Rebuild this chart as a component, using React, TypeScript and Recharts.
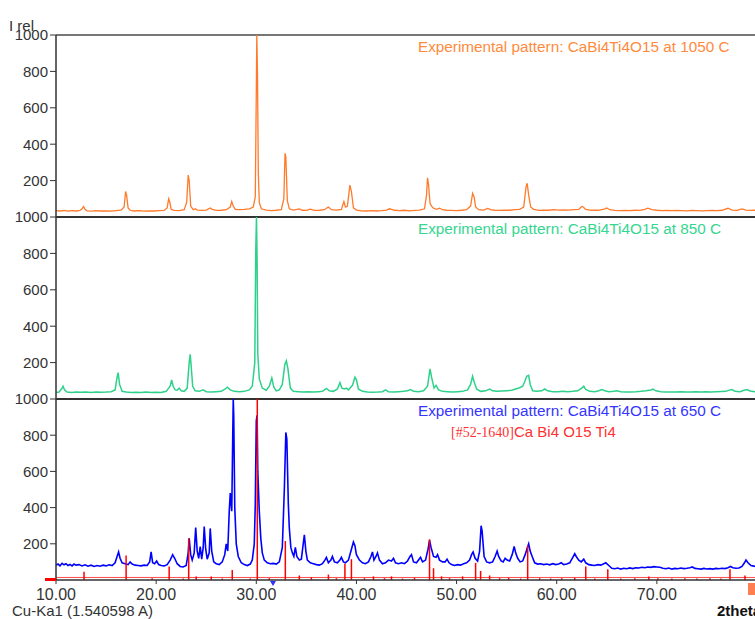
import React from "react";
import { LineChart, Line, XAxis, YAxis, ReferenceLine } from "recharts";

// 2theta / intensity pairs
const pattern1050: [number, number][] = [
  [10.0, 35], [10.4, 33], [10.8, 36], [11.2, 32], [11.6, 35], [12.0, 33], [12.4, 36], [12.6, 45], [12.75, 58], [12.9, 42],
  [13.1, 34], [13.6, 32], [14.0, 35], [14.5, 33], [15.0, 34], [15.5, 32], [16.0, 35], [16.5, 38], [16.8, 55], [16.95, 140],
  [17.05, 120], [17.2, 50], [17.4, 37], [17.8, 33], [18.3, 35], [18.8, 32], [19.3, 34], [19.8, 33], [20.3, 35], [20.8, 36],
  [21.1, 50], [21.25, 100], [21.35, 85], [21.5, 42], [21.8, 36], [22.3, 35], [22.8, 40], [23.05, 80], [23.2, 230], [23.3, 200],
  [23.45, 60], [23.7, 40], [23.9, 45], [24.1, 38], [24.6, 36], [25.0, 38], [25.4, 50], [25.6, 42], [26.0, 36], [26.5, 37],
  [27.0, 40], [27.4, 55], [27.55, 85], [27.7, 60], [27.9, 42], [28.3, 40], [28.8, 42], [29.3, 45], [29.7, 55], [29.9, 110],
  [30.0, 680], [30.05, 1000], [30.12, 790], [30.2, 250], [30.3, 80], [30.5, 45], [31.0, 38], [31.5, 35], [32.0, 37], [32.5, 40],
  [32.75, 100], [32.87, 350], [32.95, 330], [33.1, 90], [33.3, 45], [33.7, 38], [34.3, 45], [34.6, 37], [35.0, 36], [35.4, 43],
  [35.8, 36], [36.3, 37], [36.8, 40], [37.2, 55], [37.5, 40], [38.0, 38], [38.5, 42], [38.75, 85], [38.9, 55], [39.1, 60],
  [39.35, 175], [39.5, 140], [39.7, 50], [40.0, 38], [40.5, 34], [41.0, 33], [41.5, 35], [42.0, 33], [42.5, 35], [43.0, 38],
  [43.3, 45], [43.5, 42], [43.8, 37], [44.3, 35], [44.8, 37], [45.3, 34], [45.8, 36], [46.3, 38], [46.8, 45], [47.0, 120],
  [47.1, 215], [47.2, 180], [47.35, 75], [47.5, 60], [47.7, 48], [48.0, 42], [48.3, 48], [48.6, 40], [49.0, 37], [49.5, 36],
  [50.0, 35], [50.5, 37], [51.0, 40], [51.4, 60], [51.6, 130], [51.75, 110], [51.9, 55], [52.2, 40], [52.7, 38], [53.1, 47],
  [53.4, 40], [53.8, 37], [54.3, 36], [54.8, 38], [55.3, 37], [55.8, 40], [56.3, 42], [56.7, 55], [56.95, 170], [57.05, 185],
  [57.2, 120], [57.4, 55], [57.7, 42], [58.2, 36], [58.7, 38], [59.2, 37], [59.7, 40], [60.2, 38], [60.7, 39], [61.2, 38],
  [61.7, 40], [62.2, 42], [62.5, 58], [62.65, 55], [62.9, 42], [63.3, 38], [63.8, 37], [64.3, 38], [64.8, 45], [65.0, 50],
  [65.3, 40], [65.8, 36], [66.3, 35], [66.8, 36], [67.3, 35], [67.8, 37], [68.3, 36], [68.8, 42], [69.1, 48], [69.5, 40],
  [70.0, 37], [70.5, 35], [71.0, 36], [71.5, 35], [72.0, 36], [72.5, 35], [73.0, 34], [73.5, 36], [74.0, 35], [74.5, 34],
  [75.0, 35], [75.5, 36], [76.0, 35], [76.5, 37], [77.1, 48], [77.5, 38], [78.0, 36], [78.5, 45], [78.9, 38], [79.4, 36],
  [79.8, 37],
];

const pattern850: [number, number][] = [
  [10.0, 35], [10.3, 38], [10.55, 55], [10.7, 70], [10.85, 50], [11.1, 38], [11.6, 36], [12.0, 38], [12.5, 37], [13.0, 38],
  [13.5, 36], [14.0, 38], [14.5, 37], [15.0, 38], [15.5, 40], [15.9, 50], [16.1, 120], [16.2, 145], [16.35, 80], [16.6, 42],
  [17.0, 38], [17.5, 36], [18.0, 37], [18.5, 36], [19.0, 38], [19.5, 36], [20.0, 37], [20.5, 36], [21.0, 42], [21.4, 70],
  [21.55, 105], [21.7, 70], [21.9, 50], [22.1, 48], [22.3, 60], [22.5, 45], [22.8, 42], [23.1, 60], [23.3, 200], [23.4, 245],
  [23.5, 180], [23.65, 70], [23.9, 45], [24.3, 42], [24.7, 50], [25.0, 40], [25.5, 38], [26.0, 40], [26.5, 42], [26.9, 55],
  [27.1, 65], [27.4, 50], [27.8, 42], [28.3, 40], [28.8, 42], [29.3, 50], [29.6, 70], [29.85, 200], [29.95, 820], [30.02, 1000],
  [30.08, 765], [30.15, 250], [30.3, 110], [30.6, 60], [31.0, 48], [31.3, 70], [31.55, 115], [31.75, 65], [32.0, 45], [32.3, 50],
  [32.6, 80], [32.85, 190], [33.0, 210], [33.15, 170], [33.4, 60], [33.7, 42], [34.2, 40], [34.7, 38], [35.2, 40], [35.7, 38],
  [36.2, 40], [36.6, 42], [37.0, 58], [37.3, 45], [37.7, 42], [38.1, 55], [38.35, 90], [38.55, 60], [38.8, 55], [39.0, 60],
  [39.2, 50], [39.6, 75], [39.85, 120], [40.0, 105], [40.2, 55], [40.6, 42], [41.1, 38], [41.6, 37], [42.1, 38], [42.6, 40],
  [42.9, 50], [43.2, 40], [43.7, 38], [44.2, 40], [44.7, 42], [45.1, 45], [45.4, 52], [45.7, 42], [46.2, 40], [46.7, 45],
  [47.1, 70], [47.35, 165], [47.5, 120], [47.75, 60], [47.95, 75], [48.2, 50], [48.6, 42], [49.1, 40], [49.6, 38], [50.1, 40],
  [50.6, 42], [51.1, 50], [51.4, 80], [51.6, 125], [51.75, 95], [52.0, 55], [52.4, 42], [52.9, 45], [53.3, 55], [53.6, 45],
  [54.0, 42], [54.5, 44], [55.0, 46], [55.5, 48], [55.9, 55], [56.3, 62], [56.6, 70], [56.8, 95], [57.0, 125], [57.2, 130],
  [57.35, 80], [57.6, 45], [58.0, 42], [58.5, 45], [58.8, 55], [59.1, 45], [59.6, 40], [60.1, 40], [60.6, 42], [61.1, 40],
  [61.6, 42], [62.1, 45], [62.5, 60], [62.7, 70], [62.9, 52], [63.3, 42], [63.8, 40], [64.2, 45], [64.5, 52], [64.8, 45],
  [65.2, 40], [65.7, 42], [66.0, 45], [66.4, 40], [66.9, 38], [67.4, 39], [67.9, 40], [68.4, 42], [68.9, 45], [69.4, 50],
  [69.6, 54], [69.9, 45], [70.4, 40], [70.9, 38], [71.4, 39], [71.9, 38], [72.4, 40], [72.9, 38], [73.4, 39], [73.9, 40],
  [74.4, 38], [74.9, 40], [75.4, 39], [75.9, 40], [76.4, 41], [76.9, 42], [77.3, 50], [77.5, 52], [77.8, 42], [78.3, 40],
  [78.7, 48], [79.0, 52], [79.3, 44], [79.8, 40],
];

const pattern650: [number, number][] = [
  [10.0, 82], [10.2, 88], [10.4, 78], [10.6, 92], [10.8, 84], [11.0, 90], [11.2, 80], [11.4, 86], [11.6, 78], [11.8, 88],
  [12.0, 82], [12.3, 85], [12.6, 78], [12.9, 84], [13.2, 76], [13.5, 82], [13.8, 75], [14.1, 80], [14.4, 76], [14.7, 82],
  [15.0, 78], [15.3, 84], [15.6, 80], [15.9, 95], [16.1, 130], [16.25, 155], [16.4, 120], [16.6, 95], [16.9, 90], [17.2, 85],
  [17.4, 100], [17.6, 88], [17.9, 82], [18.2, 80], [18.5, 78], [18.8, 82], [19.1, 80], [19.35, 100], [19.5, 155], [19.65, 95],
  [19.85, 90], [20.05, 105], [20.25, 85], [20.5, 80], [20.8, 78], [21.1, 85], [21.4, 110], [21.65, 140], [21.85, 120], [22.1, 90],
  [22.4, 75], [22.7, 72], [23.0, 80], [23.2, 150], [23.3, 230], [23.45, 140], [23.6, 110], [23.8, 150], [23.95, 290], [24.1, 160],
  [24.25, 120], [24.4, 185], [24.55, 115], [24.7, 180], [24.8, 295], [24.95, 170], [25.1, 115], [25.3, 150], [25.4, 285], [25.55, 160],
  [25.75, 100], [26.0, 90], [26.3, 85], [26.6, 100], [26.85, 140], [27.0, 200], [27.15, 160], [27.3, 380], [27.4, 480], [27.55, 380],
  [27.65, 800], [27.7, 1000], [27.75, 905], [27.85, 400], [28.0, 200], [28.2, 130], [28.5, 95], [28.8, 85], [29.1, 80], [29.4, 88],
  [29.6, 110], [29.8, 200], [29.9, 420], [30.0, 880], [30.08, 910], [30.15, 600], [30.3, 380], [30.45, 230], [30.6, 150], [30.8, 110],
  [31.1, 95], [31.4, 90], [31.7, 92], [32.0, 88], [32.3, 100], [32.6, 180], [32.8, 500], [32.95, 815], [33.05, 780], [33.2, 420],
  [33.3, 285], [33.45, 180], [33.6, 150], [33.75, 130], [33.9, 180], [34.05, 130], [34.3, 110], [34.5, 115], [34.8, 250], [34.95, 160],
  [35.1, 110], [35.4, 95], [35.7, 90], [36.0, 85], [36.3, 82], [36.6, 90], [36.85, 110], [37.0, 125], [37.2, 95], [37.45, 110],
  [37.6, 130], [37.8, 100], [38.1, 95], [38.35, 110], [38.5, 125], [38.7, 100], [38.9, 95], [39.2, 110], [39.5, 170], [39.7, 210],
  [39.85, 190], [40.0, 140], [40.3, 110], [40.6, 95], [40.9, 90], [41.2, 100], [41.45, 130], [41.6, 155], [41.75, 110], [41.95, 130],
  [42.1, 150], [42.3, 110], [42.6, 90], [42.9, 95], [43.2, 110], [43.5, 105], [43.7, 120], [43.9, 95], [44.2, 90], [44.5, 95],
  [44.8, 90], [45.1, 105], [45.35, 130], [45.5, 140], [45.7, 100], [46.0, 95], [46.2, 110], [46.4, 125], [46.6, 100], [46.9, 110],
  [47.15, 170], [47.3, 220], [47.45, 180], [47.7, 130], [47.95, 125], [48.1, 140], [48.3, 110], [48.6, 100], [48.85, 100], [49.05, 115],
  [49.25, 95], [49.5, 85], [49.8, 80], [50.1, 85], [50.4, 82], [50.7, 90], [51.0, 95], [51.3, 110], [51.5, 140], [51.65, 155],
  [51.85, 120], [52.1, 105], [52.3, 160], [52.45, 300], [52.55, 270], [52.75, 130], [53.0, 100], [53.3, 95], [53.6, 100], [53.85, 130],
  [54.05, 160], [54.2, 130], [54.45, 105], [54.65, 100], [54.85, 120], [55.05, 110], [55.3, 105], [55.55, 140], [55.75, 185], [55.9, 150],
  [56.1, 120], [56.35, 100], [56.6, 105], [56.85, 140], [57.05, 175], [57.2, 200], [57.35, 160], [57.55, 130], [57.8, 95], [58.1, 88],
  [58.4, 90], [58.7, 85], [59.0, 88], [59.3, 84], [59.6, 90], [59.9, 85], [60.2, 88], [60.45, 95], [60.7, 85], [61.0, 88],
  [61.3, 95], [61.55, 120], [61.8, 145], [61.95, 130], [62.2, 110], [62.45, 100], [62.7, 115], [62.9, 95], [63.2, 85], [63.5, 82],
  [63.8, 80], [64.1, 85], [64.4, 82], [64.7, 90], [64.9, 95], [65.2, 80], [65.5, 65], [65.8, 62], [66.1, 66], [66.4, 60],
  [66.7, 65], [67.0, 62], [67.3, 67], [67.6, 63], [67.9, 68], [68.2, 66], [68.5, 70], [68.8, 68], [69.1, 72], [69.4, 70],
  [69.7, 74], [70.0, 72], [70.3, 70], [70.6, 65], [70.9, 62], [71.2, 66], [71.5, 60], [71.8, 64], [72.1, 62], [72.4, 66],
  [72.7, 63], [73.0, 65], [73.3, 68], [73.55, 72], [73.8, 64], [74.1, 62], [74.4, 60], [74.7, 64], [75.0, 61], [75.3, 63],
  [75.6, 60], [75.9, 64], [76.2, 62], [76.5, 65], [76.8, 63], [77.1, 68], [77.35, 75], [77.6, 68], [77.9, 65], [78.2, 66],
  [78.5, 75], [78.75, 95], [78.9, 110], [79.1, 95], [79.4, 80], [79.8, 75],
];

// reference card #52-1640: stick position / relative intensity
const refSticks: [number, number][] = [
  [12.8, 45], [17.0, 135], [19.6, 10], [21.3, 75], [22.7, 8], [23.25, 230], [24.0, 20], [25.5, 20], [26.6, 8], [27.6, 55],
  [29.4, 8], [30.1, 1000], [31.3, 10], [32.9, 215], [34.3, 25], [35.5, 15], [37.2, 30], [38.0, 10], [38.85, 90], [39.5, 115],
  [40.8, 10], [41.7, 20], [42.8, 10], [43.5, 20], [44.6, 8], [45.8, 12], [47.3, 225], [47.7, 65], [48.5, 20], [49.3, 10],
  [50.6, 20], [51.9, 95], [52.4, 50], [53.3, 25], [54.3, 10], [55.2, 12], [56.4, 8], [57.1, 190], [58.3, 10], [59.4, 8],
  [60.5, 10], [61.8, 12], [62.9, 75], [63.8, 8], [65.1, 60], [66.4, 8], [67.8, 10], [69.2, 20], [70.1, 10], [71.5, 8],
  [72.8, 10], [74.0, 8], [75.3, 10], [76.4, 8], [77.3, 60], [78.8, 25],
];

const X_TICKS = [10, 20, 30, 40, 50, 60, 70];
const Y_TICKS = [200, 400, 600, 800, 1000];
const X_DOMAIN: [number, number] = [10, 79.8];

const FONT = "'Liberation Sans', Arial, sans-serif";
const W = 755;
const PAD = 10;

const toPoints = (arr: [number, number][]) => arr.map(([x, y]) => ({ x, y }));

type PanelProps = {
  data: [number, number][];
  color: string;
  width: number;
  top: number;
  plotHeight: number;
  borderColor: string;
  showXAxis?: boolean;
  children?: React.ReactNode;
};

function Panel({ data, color, width, top, plotHeight, borderColor, showXAxis, children }: PanelProps) {
  const axisH = showXAxis ? 32 : 0;
  return (
    <div style={{ position: "absolute", left: 0, top: top - PAD }}>
      <LineChart
        width={W}
        height={PAD + plotHeight + axisH}
        data={toPoints(data)}
        margin={{ top: PAD, right: 0, bottom: 0, left: 0 }}
      >
        <XAxis
          type="number"
          dataKey="x"
          domain={X_DOMAIN}
          allowDataOverflow
          hide={!showXAxis}
          ticks={X_TICKS}
          interval={0}
          height={32}
          tickFormatter={(v: number) => v.toFixed(2)}
          tick={{ fontSize: 16, fill: "#333", fontFamily: FONT }}
          tickSize={4}
          tickMargin={5}
          axisLine={{ stroke: "#333", strokeWidth: 1.5 }}
          tickLine={{ stroke: "#333" }}
        />
        <YAxis
          type="number"
          domain={[0, 1000]}
          allowDataOverflow
          ticks={Y_TICKS}
          interval={0}
          width={56}
          tick={{ fontSize: 15, fill: "#333", fontFamily: FONT }}
          axisLine={{ stroke: "#333", strokeWidth: 1.5 }}
          tickLine={{ stroke: "#333" }}
        />
        <ReferenceLine y={1000} stroke={borderColor} strokeWidth={2} />
        <Line
          type="linear"
          dataKey="y"
          stroke={color}
          strokeWidth={width}
          dot={false}
          isAnimationActive={false}
        />
        {children}
      </LineChart>
    </div>
  );
}

export default function App() {
  return (
    <div style={{ position: "absolute", left: 0, top: 0, width: W, height: 619, background: "#fff", overflow: "hidden" }}>
      <Panel data={pattern1050} color="#FF7A2A" width={1.3} top={35} plotHeight={182} borderColor="#777" />
      <Panel data={pattern850} color="#2ED18A" width={1.5} top={217} plotHeight={182} borderColor="#333" />
      <Panel data={pattern650} color="#0000FF" width={1.6} top={399} plotHeight={181} borderColor="#333" showXAxis>
        <ReferenceLine y={14} stroke="#FF0000" strokeWidth={1} strokeOpacity={0.7} />
        {refSticks.map(([x, h]) => (
          <ReferenceLine
            key={x}
            segment={[{ x, y: 0 }, { x, y: h }]}
            stroke="#FF0000"
            strokeWidth={1.5}
          />
        ))}
      </Panel>
      <svg width={W} height={619} style={{ position: "absolute", left: 0, top: 0, pointerEvents: "none" }}>
        <g fontFamily={FONT} fontSize={15}>
          <text x={9} y={31} fill="#333">I rel</text>
          <text x={418} y={52} fill="#FF8A3D" fontSize={15.3}>Experimental pattern: CaBi4Ti4O15 at 1050 C</text>
          <text x={418} y={234} fill="#35D690" fontSize={15.3}>Experimental pattern: CaBi4Ti4O15 at 850 C</text>
          <text x={418} y={416} fill="#3535FF" fontSize={15.3}>Experimental pattern: CaBi4Ti4O15 at 650 C</text>
          <text x={451} y={437} fill="#FF3030">
            <tspan fontFamily="'Liberation Serif', 'Times New Roman', serif" fontSize={14}>[#52-1640]</tspan>
            <tspan>Ca Bi4 O15 Ti4</tspan>
          </text>
          <text x={12} y={616} fill="#333">Cu-Ka1 (1.540598 A)</text>
          <text x={717} y={616} fill="#111" fontWeight="bold">2theta</text>
        </g>
        <rect x={45} y={578} width={11} height={3} fill="#FF0000" />
        <rect x={748} y={583} width={7} height={12} fill="#FF7F50" />
        <polygon points="270,581 276,581 273,586" fill="#3030FF" />
      </svg>
    </div>
  );
}
